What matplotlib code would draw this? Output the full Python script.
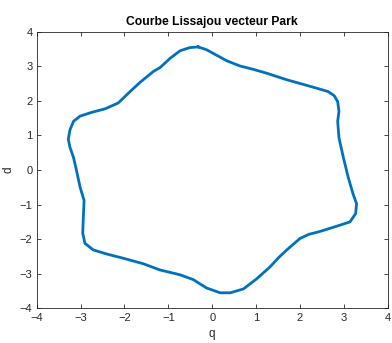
import numpy as np
import matplotlib.pyplot as plt

plt.rcParams['font.family'] = ['Liberation Sans', 'DejaVu Sans']

# Park vector trace (q, d), one loop, clockwise from the top
q = [-0.32, -0.13, 0.10, 0.33, 0.63, 0.94, 1.24, 1.70, 2.15, 2.40, 2.64, 2.78,
     2.86, 2.89, 2.86, 2.89, 2.99, 3.10, 3.21, 3.29, 3.27, 3.14, 2.80, 2.42,
     2.20, 2.00, 1.70, 1.50, 1.32, 1.01, 0.71, 0.41, 0.18, -0.13, -0.43, -0.73,
     -1.19, -1.57, -2.03, -2.40, -2.71, -2.90, -2.95, -2.94, -2.92, -3.01,
     -3.10, -3.16, -3.24, -3.28, -3.24, -3.16, -3.01, -2.74, -2.44, -2.14,
     -1.87, -1.64, -1.34, -1.19, -0.96, -0.73, -0.51, -0.32]
d = [3.56, 3.48, 3.32, 3.16, 3.01, 2.91, 2.80, 2.61, 2.45, 2.36, 2.27, 2.15,
     1.98, 1.70, 1.41, 0.93, 0.36, -0.21, -0.69, -0.97, -1.26, -1.50, -1.64,
     -1.79, -1.86, -1.98, -2.31, -2.55, -2.80, -3.15, -3.44, -3.55, -3.55,
     -3.41, -3.17, -3.03, -2.89, -2.71, -2.55, -2.43, -2.31, -2.12, -1.83,
     -1.45, -0.88, -0.50, 0.03, 0.36, 0.65, 0.89, 1.17, 1.41, 1.56, 1.67, 1.77,
     1.94, 2.27, 2.54, 2.85, 2.96, 3.23, 3.45, 3.54, 3.56]
ticks = [-4, -3, -2, -1, 0, 1, 2, 3, 4]

fig = plt.figure(figsize=(3.92, 3.43), dpi=100)
ax = fig.add_axes([0.0936, 0.101, 0.8954, 0.8066])
ax.plot(q, d, color='#0072BD', linewidth=2.0, solid_joinstyle='round')

ax.set_xlim(-4, 4)
ax.set_ylim(-4, 4)
ax.set_xticks(ticks)
ax.set_yticks(ticks)
ax.tick_params(direction='in', top=True, right=True, length=3, width=0.6,
               labelsize=8, colors='#262626', pad=3)
for s in ax.spines.values():
    s.set_color('#262626')
    s.set_linewidth(0.6)

ax.set_title("Courbe Lissajou vecteur Park", fontsize=8.7, fontweight='bold', pad=5)
ax.set_xlabel("q", fontsize=8.5, color='#262626', labelpad=4)
ax.set_ylabel("d", fontsize=8.5, color='#262626', labelpad=4)

fig.savefig("out.png", dpi=100)
